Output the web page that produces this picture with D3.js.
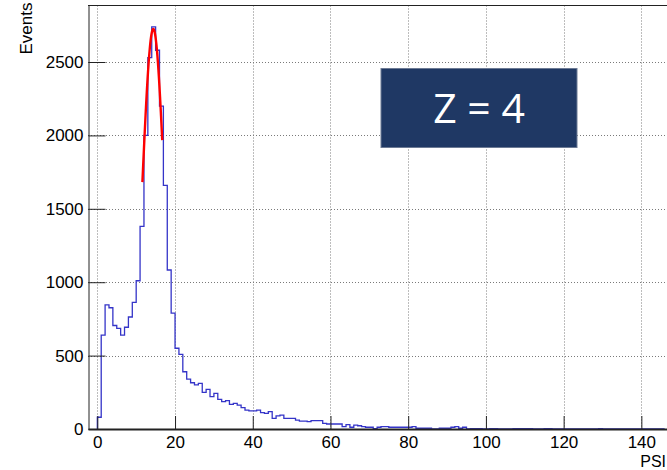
<!DOCTYPE html>
<html>
<head lang="en">
    <meta charset="utf-8">
    <title>PSI histogram | Z = 4</title>
    <style type="text/css">
        body {
            margin: 0;
            background: #fff;
        }
        svg text {
            font-family: "Liberation Sans", Arial, sans-serif;
        }
    </style>
</head>
<body>

<svg id="chart" width="667" height="470"></svg>

<script src="https://cdn.jsdelivr.net/npm/d3@7"></script>
<script type="text/javascript">
    // bin i covers [binLow + i, binLow + i + 1]
    var binLow = 0;
    var counts = [
        80, 640, 845, 826, 705, 686, 640, 693, 763, 863,
        1010, 1380, 2000, 2530, 2740, 2580, 2200, 1660, 1083, 790,
        550, 509, 390, 340, 315, 300, 311, 250, 270, 220,
        243, 202, 186, 193, 168, 175, 163, 145, 129, 123,
        123, 129, 111, 107, 118, 73, 89, 95, 73, 73,
        73, 61, 54, 54, 50, 57, 57, 57, 39, 34,
        34, 34, 34, 16, 30, 12, 27, 22, 16, 12,
        12, 2, 12, 16, 16, 12, 12, 12, 12, 12,
        12, 16, 5, 5, 5, 5, 1, 1, 5, 5,
        5, 12, 16, 5, 12, 0, 3, 3, 3, 0,
        0, 3, 3, 0, 0, 0, 0, 3, 3, 3,
        3, 3, 0, 0, 0, 3, 3, 0, 0, 0,
        0, 0, 0, 0, 0, 0, 0, 0, 0, 3,
        0, 0, 0, 0, 0, 0, 0, 0, 0, 0,
        0, 0, 0, 0, 0, 0
    ];

    // gaussian fit (red curve)
    var fitConst = 2725;
    var fitMean = 14.4;
    var fitSigma = 2.85;
    var fitRange = [11.6, 16.7];

    var xMajorTicks = [0, 20, 40, 60, 80, 100, 120, 140];
    var yMajorTicks = [0, 500, 1000, 1500, 2000, 2500];
    var xTitle = "PSI";
    var yTitle = "Events";
    var boxLabel = "Z = 4";

    // frame (don't call it "top", that's window.top)
    var fLeft = 88, fRight = 667, fTop = 5.5, fBottom = 429;
    var fontSize = 17;

    var svg = d3.select("#chart");

    var x = d3.scaleLinear().domain([-2.4, 146.6]).range([fLeft, fRight]);
    var y = d3.scaleLinear().domain([0, 2885]).range([fBottom, fTop]);

    var xMinorTicks = d3.range(0, 146, 5);
    var yMinorTicks = d3.range(0, 2880, 100);

    // dotted grid
    var grid = svg.append("g").attr("stroke", "#7a7a7a").attr("stroke-dasharray", "1,2");
    grid.selectAll("line.gx").data(xMajorTicks).enter().append("line")
        .attr("x1", function (d) { return Math.round(x(d)) + 0.5; })
        .attr("x2", function (d) { return Math.round(x(d)) + 0.5; })
        .attr("y1", fTop).attr("y2", fBottom);
    grid.selectAll("line.gy").data(yMajorTicks.slice(1)).enter().append("line")
        .attr("y1", function (d) { return Math.round(y(d)) + 0.5; })
        .attr("y2", function (d) { return Math.round(y(d)) + 0.5; })
        .attr("x1", fLeft).attr("x2", fRight);

    // histogram as a step line
    var steps = counts.map(function (c, i) { return [binLow + i, c]; });
    steps.unshift([binLow, 0]);
    steps.push([binLow + counts.length, counts[counts.length - 1]]);

    var stepLine = d3.line()
        .x(function (d) { return x(d[0]); })
        .y(function (d) { return y(d[1]); })
        .curve(d3.curveStepAfter);

    svg.append("path")
        .datum(steps)
        .attr("d", stepLine)
        .attr("fill", "none")
        .attr("stroke", "#3434c8")
        .attr("stroke-width", 1.3);

    // fit function
    var fitPts = d3.range(0, 101).map(function (k) {
        var t = fitRange[0] + (fitRange[1] - fitRange[0]) * k / 100;
        var z = (t - fitMean) / fitSigma;
        return [t, fitConst * Math.exp(-0.5 * z * z)];
    });
    svg.append("path")
        .datum(fitPts)
        .attr("d", d3.line().x(function (d) { return x(d[0]); }).y(function (d) { return y(d[1]); }))
        .attr("fill", "none")
        .attr("stroke", "#ff0000")
        .attr("stroke-width", 2.4);

    // axes, ticks pointing inside the frame (drawn over the zero bins)
    var gx = svg.append("g").attr("transform", "translate(0," + fBottom + ")");
    gx.call(d3.axisBottom(x).tickValues(xMinorTicks).tickSize(-6.5).tickSizeOuter(0).tickFormat(""));
    gx.call(d3.axisBottom(x).tickValues(xMajorTicks).tickSize(-13).tickSizeOuter(0).tickPadding(7));

    var gy = svg.append("g").attr("transform", "translate(" + (fLeft + 0.5) + ",0)");
    gy.call(d3.axisLeft(y).tickValues(yMinorTicks).tickSize(-8.5).tickSizeOuter(0).tickFormat(""));
    gy.call(d3.axisLeft(y).tickValues(yMajorTicks).tickSize(-17).tickSizeOuter(0).tickPadding(5)
        .tickFormat(d3.format("d")));

    svg.selectAll(".tick line").attr("stroke", "#222");
    svg.selectAll(".domain").attr("stroke", "#222");
    gx.selectAll(".domain").attr("stroke-width", 1.8);
    svg.selectAll(".tick text")
        .attr("font-size", fontSize)
        .attr("font-family", "Liberation Sans, Arial, sans-serif")
        .attr("fill", "#000");

    // top frame line
    svg.append("line")
        .attr("x1", fLeft).attr("x2", fRight)
        .attr("y1", fTop).attr("y2", fTop)
        .attr("stroke", "#222");

    // axis titles
    svg.append("text")
        .attr("x", fRight - 1).attr("y", 466.5)
        .attr("text-anchor", "end")
        .attr("font-size", 16)
        .text(xTitle);

    svg.append("text")
        .attr("transform", "translate(32," + (fTop - 3) + ") rotate(-90)")
        .attr("text-anchor", "end")
        .attr("font-size", fontSize)
        .text(yTitle);

    // Z label box
    var box = svg.append("g").attr("transform", "translate(381,68.5)");
    box.append("rect")
        .attr("width", 196).attr("height", 79)
        .attr("fill", "#1f3864")
        .attr("stroke", "#6c7a94")
        .attr("stroke-width", 1);
    box.append("text")
        .attr("x", 98).attr("y", 54.5)
        .attr("text-anchor", "middle")
        .attr("fill", "#fff")
        .attr("font-size", 41)
        .style("font-family", "'Open Sans', 'Noto Sans', sans-serif")
        .text(boxLabel);
</script>
</body>
</html>
